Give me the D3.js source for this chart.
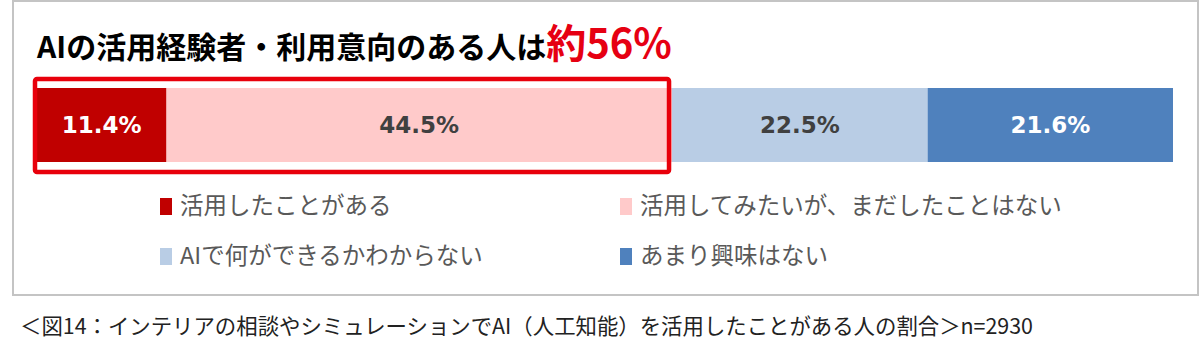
<!DOCTYPE html>
<html>
<head>
<meta charset="utf-8">
<script src="https://cdn.jsdelivr.net/npm/d3@7"></script>
<style>
  body { margin: 0; background: #fff; }
  #chart { width: 1200px; height: 352px; }
  text { font-family: "Noto Sans CJK JP", "Noto Sans", sans-serif; }
</style>
</head>
<body>
<div id="chart"></div>
<script>
var categories = ['活用したことがある', '活用してみたいが、まだしたことはない', 'AIで何ができるかわからない', 'あまり興味はない'];
var values = [11.4, 44.5, 22.5, 21.6];
var colors = ['#c00000', '#ffcaca', '#b9cde5', '#4f81bd'];
var labelColors = ['#ffffff', '#404040', '#404040', '#ffffff'];
var titleMain = 'AIの活用経験者・利用意向のある人は';
var titleAccent = '約56%';
var caption = '＜図14：インテリアの相談やシミュレーションでAI（人工知能）を活用したことがある人の割合＞n=2930';

var svg = d3.select('#chart')
  .append('svg')
    .attr('width', 1200)
    .attr('height', 352);

// outer frame
svg.append('rect')
    .attr('x', 13)
    .attr('y', 1)
    .attr('width', 1185)
    .attr('height', 294)
    .attr('fill', '#fff')
    .attr('stroke', '#c4c4c4')
    .attr('stroke-width', 2);

var x = d3.scaleLinear()
  .domain([0, 100])
  .range([37, 1173]);

var y = d3.scaleBand()
  .domain(['all'])
  .range([88, 162]);

var stacked = [];
var acc = 0;
values.forEach(function (v, i) {
  stacked.push({ start: acc, end: acc + v, value: v, i: i });
  acc += v;
});

// title
var title = svg.append('text')
    .attr('x', 37)
    .attr('y', 58)
    .attr('font-weight', 'bold')
    .attr('fill', '#000');

title.append('tspan')
    .attr('font-size', 30)
    .text(titleMain);

title.append('tspan')
    .attr('font-size', 40)
    .attr('fill', '#e60012')
    .text(titleAccent);

// bars
svg.selectAll('rect.bar')
    .data(stacked)
    .enter()
  .append('rect')
    .attr('class', 'bar')
    .attr('x', function (d) { return x(d.start); })
    .attr('y', y('all'))
    .attr('width', function (d) { return x(d.end) - x(d.start); })
    .attr('height', y.bandwidth())
    .attr('fill', function (d) { return colors[d.i]; });

svg.selectAll('text.val')
    .data(stacked)
    .enter()
  .append('text')
    .attr('class', 'val')
    .attr('x', function (d) { return (x(d.start) + x(d.end)) / 2; })
    .attr('y', y('all') + y.bandwidth() / 2)
    .attr('dy', '0.36em')
    .attr('text-anchor', 'middle')
    .attr('font-size', 23)
    .attr('font-weight', 'bold')
    .style('font-family', '"DejaVu Sans", Verdana, sans-serif')
    .attr('fill', function (d) { return labelColors[d.i]; })
    .text(function (d) { return d.value.toFixed(1) + '%'; });

// highlight box round the first two segments
svg.append('rect')
    .attr('x', x(0) - 2)
    .attr('y', 79)
    .attr('width', x(values[0] + values[1]) - x(0) - 1)
    .attr('height', 93)
    .attr('rx', 2)
    .attr('fill', 'none')
    .attr('stroke', '#e8000b')
    .attr('stroke-width', 4.5);

// legend
var legendPos = [[160, 206], [620, 206], [160, 256], [620, 256]];

var legend = svg.selectAll('g.legend')
    .data(categories)
    .enter()
  .append('g')
    .attr('class', 'legend')
    .attr('transform', function (d, i) {
      return 'translate(' + legendPos[i][0] + ',' + legendPos[i][1] + ')';
    });

legend.append('rect')
    .attr('x', 0)
    .attr('y', -8)
    .attr('width', 12)
    .attr('height', 17)
    .attr('fill', function (d, i) { return colors[i]; });

legend.append('text')
    .attr('x', 20)
    .attr('y', 0)
    .attr('dy', '0.36em')
    .attr('font-size', 23.5)
    .attr('fill', '#595959')
    .text(function (d) { return d; });

// caption
svg.append('text')
    .attr('x', 20)
    .attr('y', 326)
    .attr('dy', '0.36em')
    .attr('font-size', 21.4)
    .attr('fill', '#222')
    .text(caption);
</script>
</body>
</html>
